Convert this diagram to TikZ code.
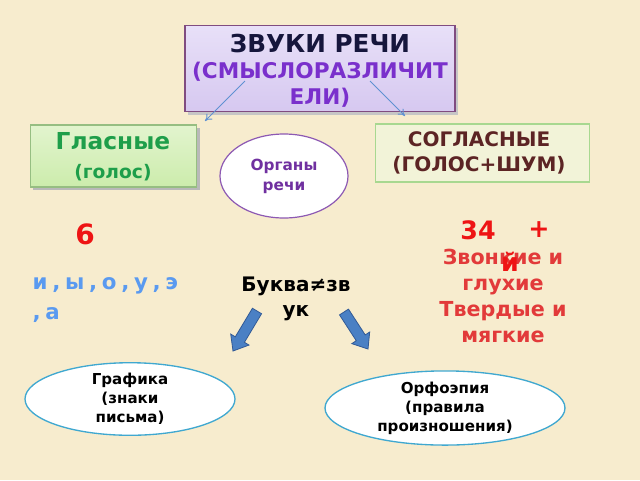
\documentclass[tikz,border=0pt]{standalone}
\usepackage{fontspec}
\setmainfont{DejaVu Sans}
\usetikzlibrary{shapes.geometric,arrows.meta,calc,shadows}
\definecolor{bg}{RGB}{247,236,206}
\definecolor{tnavy}{RGB}{22,22,60}
\definecolor{tpurple}{RGB}{122,48,204}
\definecolor{gtext}{RGB}{30,158,74}
\definecolor{opurple}{RGB}{112,48,160}
\definecolor{brown}{RGB}{92,36,36}
\definecolor{bred}{RGB}{238,20,20}
\definecolor{lred}{RGB}{226,58,58}
\definecolor{vblue}{RGB}{90,154,240}
\definecolor{arrblue}{RGB}{74,128,196}
\definecolor{arrline}{RGB}{50,90,150}
\definecolor{thinblue}{RGB}{95,145,210}
\definecolor{ecyan}{RGB}{64,168,208}
\definecolor{gtop}{RGB}{226,244,206}
\definecolor{gbot}{RGB}{204,236,172}
\definecolor{gborder}{RGB}{150,190,130}
\definecolor{cfill}{RGB}{242,243,216}
\definecolor{cborder}{RGB}{168,216,144}
\definecolor{ltop}{RGB}{232,224,248}
\definecolor{lbot}{RGB}{214,200,240}
\tikzset{
  px/.style={x=0.75pt,y=-0.75pt},
  bold/.style={font=\bfseries},
  thinarrow/.style={draw=thinblue,line width=0.6pt,-{To[length=5pt,width=6pt]}},
  bigarrow/.style={fill=arrblue,draw=arrline,line width=0.6pt},
  lbox/.style={draw=#1,line width=0.8pt,inner sep=0pt,align=center},
}
\begin{document}
\begin{tikzpicture}[px]
\useasboundingbox (0,0) rectangle (640,480);
\fill[bg] (0,0) rectangle (640,480);
% title
\fill[gray!45] (188,28) rectangle (458,115);
\node[lbox=gray!60!violet,top color=ltop,bottom color=lbot,minimum width=202.5pt,minimum height=65pt] (title) at (320,68.5) {};
\node[bold,align=center,font=\bfseries\fontsize{16.2}{19.5}\selectfont] (titletext) at (320,71)
 {\textcolor{tnavy}{\fontsize{18.5}{19.5}\selectfont ЗВУКИ РЕЧИ}\\
  \textcolor{tpurple}{(СМЫСЛОРАЗЛИЧИТ}\\
  \textcolor{tpurple}{ЕЛИ)}};
% vowels box
\fill[gray!55] (33,128) rectangle (200,190);
\node[lbox=gborder,top color=gtop,bottom color=gbot,minimum width=125pt,minimum height=46.5pt] (vow) at (113.5,156) {};
\node[align=center,text=gtext,font=\bfseries\fontsize{14}{22}\selectfont] (vowtext) at (113,157)
 {{\fontsize{17.5}{22}\selectfont Гласные}\\(голос)};
% consonants box
\node[lbox=cborder,fill=cfill,minimum width=161pt,minimum height=43.5pt] (cons) at (482.5,153) {};
\node[align=center,text=brown,font=\bfseries\fontsize{15}{19}\selectfont] (constext) at (479,153)
 {СОГЛАСНЫЕ\\(ГОЛОС+ШУМ)};
% organs ellipse
\node[ellipse,draw=opurple!80,line width=0.9pt,fill=white,minimum width=96pt,minimum height=63pt,inner sep=0pt,align=center,text=opurple,font=\bfseries\fontsize{11.5}{15}\selectfont] (org) at (284,176) {Органы\\речи};
% thin arrows
\coordinate (t1) at (245,81);
\coordinate (t2) at (370,81);
\coordinate (v1) at (205,121);
\coordinate (c1) at (405,116);
\draw[thinarrow] (t1) -- (v1);
\draw[thinarrow] (t2) -- (c1);
% numbers
\node[text=bred,font=\bfseries\fontsize{21}{24}\selectfont] (six) at (85,234) {6};
\node[align=center,text=lred,font=\bfseries\fontsize{15.5}{19.5}\selectfont] (props) at (503,296)
 {Звонкие и\\глухие\\Твердые и\\мягкие};
\node[text=bred,font=\bfseries\fontsize{19}{24}\selectfont] (n34) at (478,230) {34};
\node[text=bred,font=\bfseries\fontsize{19}{24}\selectfont] (plus) at (539,230) {+};
\node[text=bred,font=\bfseries\fontsize{19}{24}\selectfont] (yi) at (510,262) {й};
% vowel letters
\node[anchor=west,align=left,text=vblue,font=\bfseries\fontsize{16}{22.5}\selectfont\addfontfeature{LetterSpace=22}] (letters) at (28,300)
 {и,ы,о,у,э\\,а};
% letter != sound
\node[align=center,font=\bfseries\fontsize{15}{19}\selectfont] (bukva) at (296,299)
 {Буква≠зв\\ук};
% block arrows
\coordinate (a1) at (257,311);
\coordinate (b1) at (233,351);
\coordinate (a2) at (344,312);
\coordinate (b2) at (368,349);
\foreach \s/\e in {a1/b1,a2/b2}{
  \coordinate (h) at ($(\e)!10pt!(\s)$);
  \draw[bigarrow] ($(\s)!4pt!90:(\e)$) -- ($(h)!4pt!-90:(\s)$) -- ($(h)!8pt!-90:(\s)$) -- (\e)
     -- ($(h)!8pt!90:(\s)$) -- ($(h)!4pt!90:(\s)$) -- ($(\s)!4pt!-90:(\e)$) -- cycle;
}
% bottom ellipses
\node[ellipse,draw=ecyan,line width=1pt,fill=white,minimum width=157.5pt,minimum height=52.5pt,inner sep=0pt,align=center,font=\bfseries\fontsize{11.3}{14.2}\selectfont] (graf) at (130,399)
 {Графика\\(знаки\\письма)};
\node[ellipse,draw=ecyan,line width=1pt,fill=white,minimum width=180pt,minimum height=55.5pt,inner sep=0pt,align=center,font=\bfseries\fontsize{11.3}{14.2}\selectfont] (orfo) at (445,408)
 {Орфоэпия\\(правила\\произношения)};
\end{tikzpicture}
\end{document}
